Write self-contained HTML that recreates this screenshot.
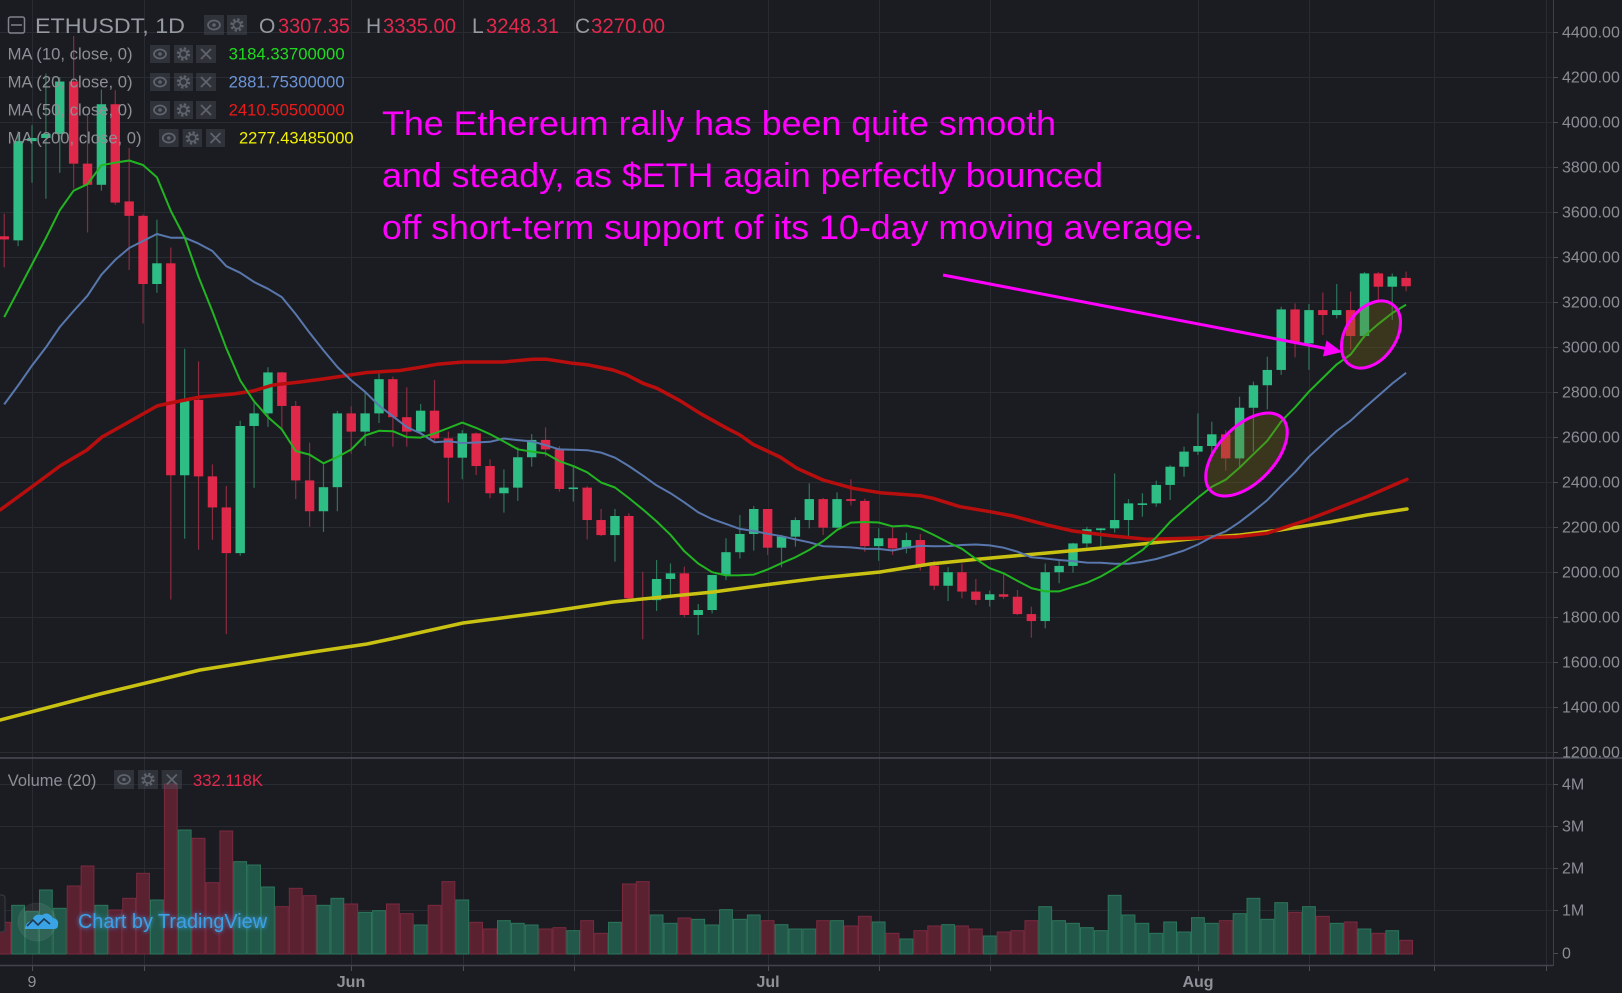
<!DOCTYPE html>
<html><head><meta charset="utf-8">
<style>
html,body{margin:0;padding:0;background:#1b1c21;overflow:hidden;}
svg{display:block;}
text{font-family:"Liberation Sans",sans-serif;}
</style></head>
<body>
<svg id="c" width="1622" height="993" viewBox="0 0 1622 993" xmlns="http://www.w3.org/2000/svg">
<defs>
<clipPath id="cp"><rect x="0" y="0" width="1553" height="757"/></clipPath>
<clipPath id="cv"><rect x="0" y="759" width="1553" height="206"/></clipPath>
<filter id="glow" x="-20%" y="-50%" width="140%" height="200%"><feGaussianBlur stdDeviation="2.2" result="b"/><feMerge><feMergeNode in="b"/><feMergeNode in="SourceGraphic"/></feMerge></filter>
</defs>
<rect width="1622" height="993" fill="#1b1c21"/>
<g id="grid"></g>
<g id="vol" clip-path="url(#cv)"></g>
<g id="cand" clip-path="url(#cp)"></g>
<g id="mas" clip-path="url(#cp)" fill="none" stroke-linejoin="round" stroke-linecap="round">
<polyline stroke="#c9c212" stroke-width="3.5" points="0,720 100,694 200,670 313,652 367,644 400,637 463,623 547,612 613,602 713,592 780,583 820,578 880,572 930,564 980,559 1047,553 1113,547 1200,538 1240,535 1280,530 1330,522 1367,515 1407,509"/>
<polyline stroke="#b80e0e" stroke-width="3.5" points="0,510 33,486 60,466 87,450 102,437 127,423 157,406 170,403 200,397 233,394 253,391 273,385 300,382 323,379 350,375 367,372.5 400,370.5 420,367.3 437,364.3 463,362 503,362 533,359.3 547,359.3 573,363.3 587,364.7 613,370 627,375 643,383.3 657,388.3 680,400.7 700,413.3 727,428.3 740,435 753,444.3 780,457 797,468.3 823,480 853,488.3 880,492.7 920,495.7 933,498.3 960,506.7 990,511.7 1013,516 1047,525 1073,531 1113,536 1147,539.3 1180,538.5 1237,536.7 1267,533.3 1307,520 1333,510 1367,496.7 1407,479.3"/>
</g>
<g id="mas2" clip-path="url(#cp)" fill="none" stroke-linejoin="round"></g>

<!-- separators / axes -->
<line x1="0" y1="758" x2="1622" y2="758" stroke="#4a4d57" stroke-width="1.5"/>
<line x1="0" y1="965.5" x2="1553" y2="965.5" stroke="#41444d" stroke-width="1.5"/>
<line x1="1553.5" y1="0" x2="1553.5" y2="966" stroke="#3c3f48" stroke-width="1"/>

<!-- price axis labels -->
<g font-size="16" fill="#8b8e95">
<text x="1562" y="37.5">4400.00</text>
<text x="1562" y="82.5">4200.00</text>
<text x="1562" y="127.5">4000.00</text>
<text x="1562" y="172.5">3800.00</text>
<text x="1562" y="217.5">3600.00</text>
<text x="1562" y="262.5">3400.00</text>
<text x="1562" y="307.5">3200.00</text>
<text x="1562" y="352.5">3000.00</text>
<text x="1562" y="397.5">2800.00</text>
<text x="1562" y="442.5">2600.00</text>
<text x="1562" y="487.5">2400.00</text>
<text x="1562" y="532.5">2200.00</text>
<text x="1562" y="577.5">2000.00</text>
<text x="1562" y="622.5">1800.00</text>
<text x="1562" y="667.5">1600.00</text>
<text x="1562" y="712.5">1400.00</text>
<text x="1562" y="757.5">1200.00</text>
<text x="1562" y="789.5">4M</text>
<text x="1562" y="831.5">3M</text>
<text x="1562" y="873.5">2M</text>
<text x="1562" y="915.5">1M</text>
<text x="1562" y="958.5">0</text>
</g>
<!-- time labels -->
<g font-size="16" fill="#8e9197" text-anchor="middle">
<text x="32" y="987">9</text>
<text x="351" y="987" font-weight="bold">Jun</text>
<text x="768" y="987" font-weight="bold">Jul</text>
<text x="1198" y="987" font-weight="bold">Aug</text>
</g>

<g id="icons"></g>

<!-- header -->
<rect x="8.5" y="17" width="16" height="16" rx="2" fill="none" stroke="#80838b" stroke-width="1.5"/>
<line x1="11" y1="25" x2="22" y2="25" stroke="#80838b" stroke-width="1.5"/>
<text x="35" y="33" font-size="21" fill="#969aa1" textLength="150" lengthAdjust="spacingAndGlyphs">ETHUSDT, 1D</text>
<g font-size="21">
<text x="259" y="33" fill="#969aa1">O</text>
<text x="278" y="33" fill="#e2284d" textLength="72" lengthAdjust="spacingAndGlyphs">3307.35</text>
<text x="366" y="33" fill="#969aa1">H</text>
<text x="383" y="33" fill="#e2284d" textLength="73" lengthAdjust="spacingAndGlyphs">3335.00</text>
<text x="472" y="33" fill="#969aa1">L</text>
<text x="486" y="33" fill="#e2284d" textLength="73" lengthAdjust="spacingAndGlyphs">3248.31</text>
<text x="575" y="33" fill="#969aa1">C</text>
<text x="591" y="33" fill="#e2284d" textLength="74" lengthAdjust="spacingAndGlyphs">3270.00</text>
</g>
<g font-size="16.5" fill="#8c8f96">
<text x="7.6" y="59.5" textLength="125" lengthAdjust="spacingAndGlyphs">MA (10, close, 0)</text>
<text x="7.6" y="87.5" textLength="125" lengthAdjust="spacingAndGlyphs">MA (20, close, 0)</text>
<text x="7.6" y="115.5" textLength="125" lengthAdjust="spacingAndGlyphs">MA (50, close, 0)</text>
<text x="7.6" y="143.5" textLength="134" lengthAdjust="spacingAndGlyphs">MA (200, close, 0)</text>
<text x="7.8" y="786" textLength="88.6" lengthAdjust="spacingAndGlyphs">Volume (20)</text>
</g>
<g font-size="16.5">
<text x="228.6" y="59.5" fill="#1fdc1f" textLength="116" lengthAdjust="spacingAndGlyphs">3184.33700000</text>
<text x="228.6" y="87.5" fill="#6b93d6" textLength="116" lengthAdjust="spacingAndGlyphs">2881.75300000</text>
<text x="228.6" y="115.5" fill="#ec1a1a" textLength="116" lengthAdjust="spacingAndGlyphs">2410.50500000</text>
<text x="239" y="143.5" fill="#f2f000" textLength="114.6" lengthAdjust="spacingAndGlyphs">2277.43485000</text>
<text x="193" y="786" fill="#e2284d" textLength="70" lengthAdjust="spacingAndGlyphs">332.118K</text>
</g>

<!-- annotation -->
<g font-size="34" fill="#ff00ff">
<text x="382" y="135" textLength="674" lengthAdjust="spacingAndGlyphs">The Ethereum rally has been quite smooth</text>
<text x="382" y="187" textLength="721" lengthAdjust="spacingAndGlyphs">and steady, as $ETH again perfectly bounced</text>
<text x="382" y="239" textLength="821" lengthAdjust="spacingAndGlyphs">off short-term support of its 10-day moving average.</text>
</g>
<line x1="943" y1="275" x2="1326" y2="348.5" stroke="#ff00ff" stroke-width="3"/>
<polygon points="1342,352 1323,356.5 1326.5,340.5" fill="#ff00ff"/>
<ellipse cx="1246.5" cy="454.5" rx="51" ry="28" transform="rotate(-46 1246.5 454.5)" fill="rgba(125,108,25,0.32)" stroke="#ff00ff" stroke-width="3"/>
<ellipse cx="1371" cy="334.5" rx="37" ry="25" transform="rotate(-55 1371 334.5)" fill="rgba(125,108,25,0.32)" stroke="#ff00ff" stroke-width="3"/>

<!-- logo -->
<rect x="-4" y="895" width="9" height="37" rx="3" fill="#1f2026" stroke="#3a3d45"/>
<circle cx="37" cy="922" r="19" fill="rgba(255,255,255,0.07)" stroke="rgba(255,255,255,0.06)"/>
<path d="M25,929 q0,-7 7,-8 q2,-8 10,-6 q6,-4 11,3 q6,1 5,7 q0,4 -4,4 h-25 q-4,0 -4,0z" fill="#3aa3e6"/>
<polyline points="27,926 33,920 38,925 44,919 50,924" fill="none" stroke="#1f3a50" stroke-width="1.6"/>
<text x="78" y="928" font-size="20" fill="#3c9fe4" textLength="189" lengthAdjust="spacingAndGlyphs" filter="url(#glow)">Chart by TradingView</text>
</svg>
<script>
(function(){
var NS="http://www.w3.org/2000/svg";
var D=[
[3492,3593,3354,3478],[3474,3959,3448,3915],[3915,3986,3730,3929],[3929,4215,3659,3947],[3947,4200,3774,4180],
[4180,4382,3704,3815],[3815,4039,3509,3721],[3721,4144,3695,4079],[4079,4141,3633,3642],[3647,3885,3342,3583],
[3583,3590,3104,3280],[3280,3566,3241,3372],[3372,3442,1878,2430],[2430,2992,2148,2765],[2765,2936,2099,2425],
[2425,2478,2143,2287],[2287,2382,1724,2084],[2084,2672,2072,2649],[2649,2751,2374,2705],[2705,2910,2645,2887],
[2887,2890,2628,2738],[2738,2760,2324,2407],[2407,2575,2201,2270],[2270,2478,2178,2377],[2377,2716,2270,2705],
[2705,2737,2525,2624],[2624,2800,2560,2705],[2705,2896,2662,2857],[2857,2868,2557,2688],[2688,2821,2557,2624],
[2624,2747,2615,2717],[2717,2853,2579,2594],[2594,2624,2308,2508],[2508,2631,2412,2616],[2616,2620,2431,2471],
[2471,2501,2328,2350],[2350,2456,2264,2375],[2375,2554,2316,2510],[2510,2613,2468,2587],[2587,2643,2513,2545],
[2545,2560,2357,2369],[2369,2468,2313,2375],[2375,2382,2145,2231],[2231,2280,2160,2164],[2164,2280,2046,2249],
[2249,2261,1868,1883],[1883,2001,1701,1875],[1875,2053,1827,1969],[1969,2038,1890,1994],[1994,2024,1799,1809],
[1809,1858,1720,1831],[1831,1987,1816,1987],[1987,2150,1964,2088],[2088,2253,2060,2169],[2169,2293,2095,2280],
[2280,2280,2076,2108],[2108,2165,2021,2157],[2157,2243,2113,2231],[2231,2394,2194,2324],[2324,2330,2164,2197],
[2197,2354,2194,2324],[2324,2412,2296,2316],[2316,2326,2090,2115],[2115,2194,2050,2150],[2150,2198,2076,2105],
[2105,2175,2083,2142],[2142,2169,2006,2028],[2028,2050,1920,1939],[1939,2021,1871,1999],[1999,2038,1883,1913],
[1913,1969,1853,1876],[1876,1917,1846,1901],[1901,1994,1880,1890],[1890,1920,1809,1813],[1813,1846,1708,1782],
[1782,2038,1750,1999],[1999,2050,1950,2027],[2027,2130,1997,2127],[2127,2201,2110,2190],[2186,2195,2110,2194],
[2194,2438,2175,2231],[2231,2324,2157,2305],[2298,2350,2246,2305],[2305,2406,2290,2387],[2387,2475,2320,2468],
[2468,2557,2424,2535],[2535,2705,2520,2560],[2560,2668,2513,2612],[2612,2631,2450,2505],[2505,2779,2461,2730],
[2730,2846,2535,2830],[2830,2957,2723,2898],[2898,3179,2876,3167],[3167,3194,2954,3016],[3016,3191,2898,3164],
[3164,3242,3053,3142],[3142,3280,3127,3164],[3164,3246,2987,3049],[3049,3333,3040,3327],[3327,3333,3201,3268],
[3268,3327,3120,3313],[3307,3335,3248,3270]];
var V=[487,436,455,390,445,378,318,436,450,415,340,420,72,210,235,368,213,305,315,381,440,385,407,436,415,
432,457,452,432,461,495,436,365,420,487,507,482,490,495,507,503,512,482,520,487,372,365,465,490,474,478,495,
449,478,465,
482,494,507,507,482,482,498,469,486,520,537,512,498,494,498,507,528,516,512,482,440,482,490,503,512,406,465,490,520,486,516,
473,490,482,461,415,478,428,457,440,469,490,486,507,520,512,541];
var prev=[2237,2160,2330,2365,2390,2365,2210,2315,2535,2662,2747,2755,2772,2946,2948,3431,3240,3522,3490];
function X(i){return 32+(i-2)*13.88;}
function Y(p){return 32+(4400-p)*0.225;}
function el(tag,attrs,parent){var e=document.createElementNS(NS,tag);for(var k in attrs)e.setAttribute(k,attrs[k]);parent.appendChild(e);return e;}
var grid=document.getElementById('grid');
var gx=[32,144,351,463,574,768,879,990,1198,1309,1434,1546];
gx.forEach(function(x){el('line',{x1:x+0.5,y1:0,x2:x+0.5,y2:965,stroke:'#292b32','stroke-width':1},grid);
 el('line',{x1:x+0.5,y1:966,x2:x+0.5,y2:971,stroke:'#4a4d56','stroke-width':1},grid);});
for(var p=4400;p>=1200;p-=200){var y=Math.round(Y(p))+0.5;
 el('line',{x1:0,y1:y,x2:1553,y2:y,stroke:'#292b32','stroke-width':1},grid);
 el('line',{x1:1553,y1:y,x2:1558,y2:y,stroke:'#4a4d56','stroke-width':1},grid);}
[784,826,868,910,953].forEach(function(y){
 if(y<953)el('line',{x1:0,y1:y+0.5,x2:1553,y2:y+0.5,stroke:'#292b32','stroke-width':1},grid);
 el('line',{x1:1553,y1:y+0.5,x2:1558,y2:y+0.5,stroke:'#4a4d56','stroke-width':1},grid);});
// volume
var vol=document.getElementById('vol');
for(var i=0;i<D.length;i++){
 var up=D[i][3]>=D[i][0];var top=760+V[i]/3;var x=X(i);
 el('rect',{x:(x-6.4).toFixed(2),y:top.toFixed(2),width:12.8,height:(954-top).toFixed(2),
 fill:up?'#22584a':'#5a2131',stroke:up?'#2c7559':'#7a2a3e','stroke-width':1},vol);
}
// candles
var cand=document.getElementById('cand');
for(var i=0;i<D.length;i++){
 var d=D[i],up=d[3]>=d[0],x=X(i);
 el('line',{x1:x,y1:Y(d[1]),x2:x,y2:Y(d[2]),stroke:up?'#2f7458':'#8a2b3f','stroke-width':1.2},cand);
 var t=Y(Math.max(d[0],d[3])),b=Y(Math.min(d[0],d[3]));if(b-t<1.6){var m=(t+b)/2;t=m-0.8;b=m+0.8;}
 el('rect',{x:(x-4.7).toFixed(2),y:t.toFixed(2),width:9.4,height:(b-t).toFixed(2),fill:up?'#2ebd85':'#e0294a'},cand);
}
// MA10/MA20
var C=prev.concat(D.map(function(d){return d[3];}));
function ma(n){var pts=[];for(var i=0;i<D.length;i++){var k=i+19,s=0;for(var j=0;j<n;j++)s+=C[k-j];pts.push(X(i).toFixed(1)+','+Y(s/n).toFixed(1));}return pts.join(' ');}
var m2=document.getElementById('mas2');
el('polyline',{points:ma(20),stroke:'#5877ad','stroke-width':2},m2);
el('polyline',{points:ma(10),stroke:'#22b522','stroke-width':2},m2);
// icons
var ic=document.getElementById('icons');
function box(x,y,kind,w,h){
 el('rect',{x:x,y:y,width:w,height:h,fill:'rgba(78,82,92,0.42)'},ic);
 var cx=x+w/2,cy=y+h/2,c='#5f636b';
 if(kind==0){el('ellipse',{cx:cx,cy:cy,rx:6,ry:4.5,fill:'none',stroke:c,'stroke-width':1.8},ic);el('circle',{cx:cx,cy:cy,r:1.8,fill:c},ic);}
 else if(kind==1){el('circle',{cx:cx,cy:cy,r:5.2,fill:'none',stroke:c,'stroke-width':3,'stroke-dasharray':'2.2 1.9'},ic);el('circle',{cx:cx,cy:cy,r:3.6,fill:'none',stroke:c,'stroke-width':1.6},ic);}
 else {el('path',{d:'M'+(cx-5)+','+(cy-5)+'L'+(cx+5)+','+(cy+5)+'M'+(cx+5)+','+(cy-5)+'L'+(cx-5)+','+(cy+5),stroke:c,'stroke-width':1.8},ic);}
}
box(204,15,0,20,20);box(227,15,1,20,20);
[45,73,101].forEach(function(y){box(150,y,0,20,18);box(174,y,1,19,18);box(196,y,2,20,18);});
box(159,129,0,19.6,18);box(182.6,129,1,19.4,18);box(206,129,2,19,18);
box(114,770,0,20,19);box(138,770,1,20,19);box(161.6,770,2,20.4,19);
})();
</script>
</body></html>
